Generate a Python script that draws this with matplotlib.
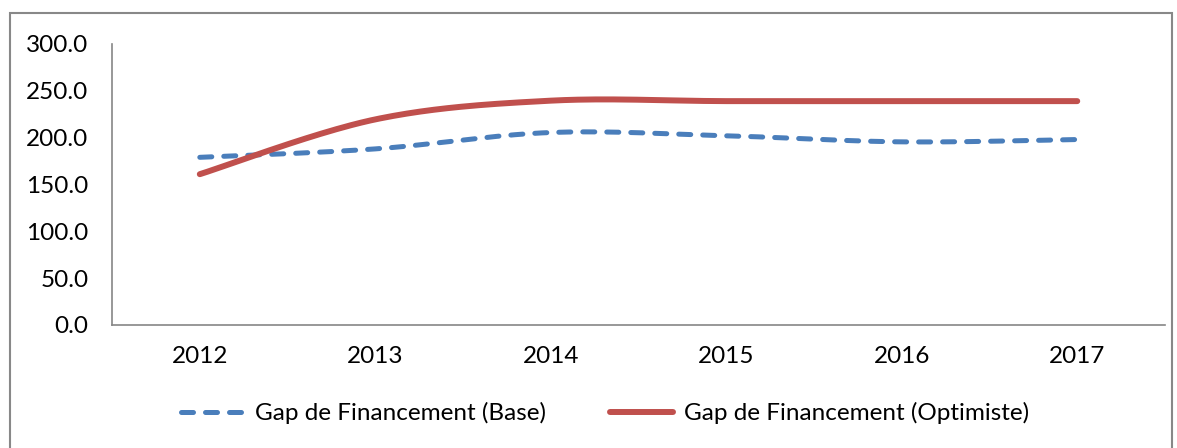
import numpy as np
import matplotlib.pyplot as plt
from matplotlib.patches import Rectangle

# Gap de financement 2012-2017, deux scénarios
annees = ['2012', '2013', '2014', '2015', '2016', '2017']
gap_base = [179.0, 188.0, 205.5, 202.0, 195.5, 198.0]
gap_optimiste = [161.0, 219.5, 239.5, 239.0, 239.0, 239.0]


def lisser(x, y, n=40):
    # courbe lissée type Excel (spline de Bezier, tangentes de Catmull-Rom)
    x = np.asarray(x, float)
    y = np.asarray(y, float)
    pts = np.column_stack([x, y])
    ext = np.vstack([pts[0], pts, pts[-1]])
    xs, ys = [], []
    t = np.linspace(0, 1, n)
    for i in range(len(pts) - 1):
        p0, p3 = ext[i + 1], ext[i + 2]
        p1 = p0 + (ext[i + 2] - ext[i]) / 6
        p2 = p3 - (ext[i + 3] - ext[i + 1]) / 6
        b = ((1 - t) ** 3)[:, None] * p0 + (3 * (1 - t) ** 2 * t)[:, None] * p1 \
            + (3 * (1 - t) * t ** 2)[:, None] * p2 + (t ** 3)[:, None] * p3
        xs.extend(b[:, 0])
        ys.extend(b[:, 1])
    return np.array(xs), np.array(ys)


plt.rcParams['font.family'] = ['Lato', 'DejaVu Sans']

fig = plt.figure(figsize=(11.77, 4.48), dpi=100)
ax = fig.add_axes([0.0952, 0.2746, 0.8946, 0.6272])

pos = np.arange(len(annees))
xb, yb = lisser(pos, gap_base)
xo, yo = lisser(pos, gap_optimiste)

bleu = '#4A7EBB'
rouge = '#C0504D'
ax.plot(xb, yb, color=bleu, lw=3.6, dashes=(2.4, 2.4), dash_capstyle='round',
        solid_capstyle='round', label='Gap de Financement (Base)')
ax.plot(xo, yo, color=rouge, lw=4.3, solid_capstyle='round',
        label='Gap de Financement (Optimiste)')

ax.set_xlim(-0.5, len(annees) - 0.5)
ax.set_ylim(0, 300)
ax.set_yticks(np.arange(0, 301, 50))
ax.set_yticklabels([f'{v:.1f}' for v in np.arange(0, 301, 50)])
ax.set_xticks(pos)
ax.set_xticklabels(annees)
ax.tick_params(axis='both', length=0, labelsize=17.5)
ax.tick_params(axis='y', pad=17)
ax.tick_params(axis='x', pad=15)

for s in ['top', 'right']:
    ax.spines[s].set_visible(False)
for s in ['left', 'bottom']:
    ax.spines[s].set_color('#868686')
    ax.spines[s].set_linewidth(1.2)

fig.legend(loc='center', bbox_to_anchor=(0.514, 0.078), ncol=2, frameon=False,
           fontsize=17.5, handlelength=2.6, handletextpad=0.45, columnspacing=2.6)

# cadre autour du graphique
fig.patches.append(Rectangle((10 / 1177, -0.1), 1162 / 1177, 1.1 - 13 / 448,
                             transform=fig.transFigure, fill=False,
                             edgecolor='#888888', lw=1.5))

fig.savefig('out.png', dpi=100)
